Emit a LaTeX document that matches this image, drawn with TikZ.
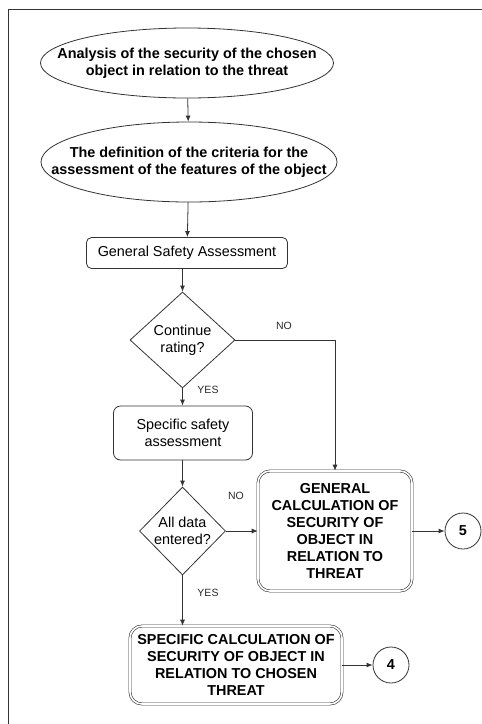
\documentclass[tikz,border=0pt]{standalone}
\usepackage{fontspec}
\setmainfont{Liberation Sans}
\usetikzlibrary{shapes.geometric,arrows.meta}
\definecolor{ink}{HTML}{333333}
\tikzset{
  every node/.style={font=\fontsize{14.4}{17}\selectfont, text=black},
  oval/.style={ellipse, draw=ink, line width=0.8pt, inner sep=0pt},
  ovaltext/.style={align=center, font=\bfseries\fontsize{14.4}{17}\selectfont},
  procbox/.style={rectangle, draw=ink, line width=0.8pt, rounded corners=5pt,
    inner sep=0pt, align=center},
  calcbox/.style={rectangle, draw=ink, line width=0.6pt, double=white,
    double distance=1.6pt, rounded corners=12pt, inner sep=0pt, align=center,
    font=\bfseries\fontsize{14.4}{17}\selectfont},
  decision/.style={diamond, draw=ink, line width=0.8pt, inner sep=0pt},
  connector/.style={circle, draw=ink, line width=0.8pt, minimum size=36pt,
    inner sep=0pt, font=\bfseries\fontsize{14.4}{17}\selectfont},
  flow/.style={draw=ink, line width=0.8pt, -{Latex[length=6pt,width=5pt]}},
  tag/.style={font=\fontsize{10.5}{12}\selectfont, text=ink!80!black}
}
\begin{document}
\begin{tikzpicture}[x=1pt, y=-1pt]
  \useasboundingbox (0,0) rectangle (482,724);
  % frame edges
  \draw[ink, line width=1pt] (8.5,724) -- (8.5,9) -- (482,9);

  \node[oval, minimum width=293pt, minimum height=70pt,
    label={[ovaltext]center:Analysis of the security of the chosen\\object in relation to the threat}]
    (e1) at (187,63) {};
  \node[oval, minimum width=296pt, minimum height=80pt,
    label={[ovaltext]center:The definition of the criteria for the\\assessment of the features of the object}]
    (e2) at (189,162) {};
  \node[procbox, minimum width=201pt, minimum height=31pt] (gsa) at (187,253)
    {General Safety Assessment};
  \node[decision, minimum width=105pt, minimum height=96pt,
    label={[align=center]center:Continue\\rating?}] (d1) at (182.5,340) {};
  \node[procbox, rounded corners=7pt, minimum width=139pt, minimum height=54pt] (ssa) at (183,433)
    {Specific safety\\assessment};
  \node[decision, minimum width=86pt, minimum height=88pt,
    label={[align=center]center:All data\\entered?}] (d2) at (182.5,531) {};
  \node[calcbox, minimum width=154pt, minimum height=120pt] (gen) at (335,531)
    {GENERAL\\CALCULATION OF\\SECURITY OF\\OBJECT IN\\RELATION TO\\THREAT};
  \node[calcbox, minimum width=212pt, minimum height=78pt] (sca) at (236,665)
    {SPECIFIC CALCULATION OF\\SECURITY OF OBJECT IN\\RELATION TO CHOSEN\\THREAT};
  \node[connector] (c5) at (463,531) {5};
  \node[connector] (c4) at (391,665) {4};

  \draw[flow] (e1) -- (e2);
  \draw[flow] (e2) -- (gsa);
  \draw[flow] (gsa.south -| d1.north) -- (d1.north);
  \draw[flow] (d1.east) -| (gen.north);
  \draw[flow] (d1.south) -- (ssa.north -| d1.south);
  \draw[flow] (ssa.south -| d2.north) -- (d2.north);
  \draw[flow] (d2.east) -- (gen.west |- d2.east);
  \draw[flow] (d2.south) -- (sca.north -| d2.south);
  \draw[flow] (gen.east) -- (c5);
  \draw[flow] (sca.east) -- (c4);

  \node[tag] (no1) at (284,326) {NO};
  \node[tag] (yes1) at (208,390) {YES};
  \node[tag] (no2) at (236,496) {NO};
  \node[tag] (yes2) at (208,593) {YES};
\end{tikzpicture}
\end{document}
